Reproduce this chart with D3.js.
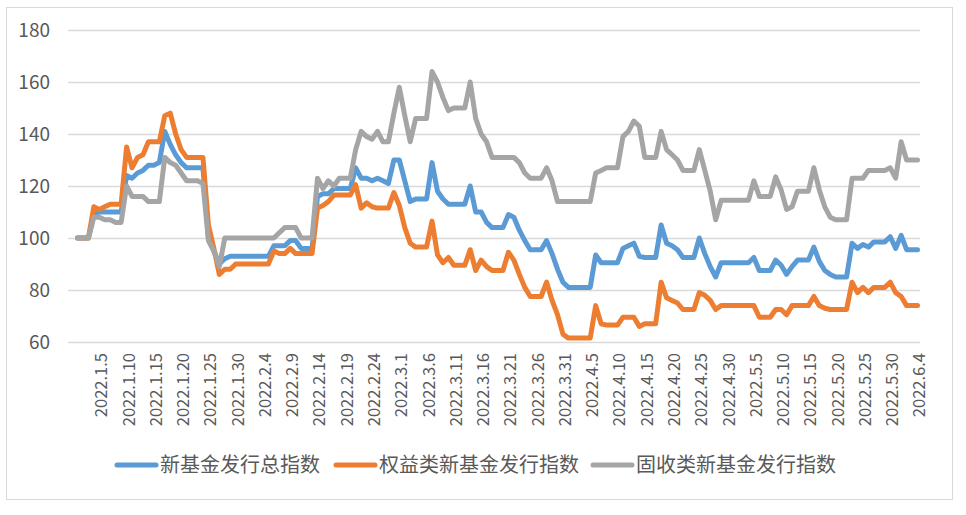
<!DOCTYPE html>
<html><head><meta charset="utf-8">
<script src="https://cdn.jsdelivr.net/npm/d3@7"></script>
<style>body{margin:0;background:#fff}svg{display:block}</style>
</head><body><svg id="c" width="966" height="515"></svg>
<script>
// ---- data ----
const firstDay = [2022, 0, 1];   // 2022.1.1
const lastDay  = [2022, 5, 4];   // 2022.6.4
const tickLabels = ["2022.1.5","2022.1.10","2022.1.15","2022.1.20","2022.1.25","2022.1.30","2022.2.4","2022.2.9","2022.2.14","2022.2.19","2022.2.24","2022.3.1","2022.3.6","2022.3.11","2022.3.16","2022.3.21","2022.3.26","2022.3.31","2022.4.5","2022.4.10","2022.4.15","2022.4.20","2022.4.25","2022.4.30","2022.5.5","2022.5.10","2022.5.15","2022.5.20","2022.5.25","2022.5.30","2022.6.4"];
const yTicks = [60, 80, 100, 120, 140, 160, 180];
const seriesNames = ["新基金发行总指数", "权益类新基金发行指数", "固收类新基金发行指数"];
const totalIndex = [100,100,100,109,110,110,110,110,110,124,
123,125,126,128,128,129,141,136,132,129,
127,127,127,127,100,95,90,92,93,93,
93,93,93,93,93,93,97,97,97,99,
99,96,96,96,116,117,117,119,119,119,
119,127,123,123,122,123,122,121,130,130,
122,114,115,115,115,129,118,115,113,113,
113,113,120,110,110,106,104,104,104,109,
108,103,99,95.5,95.5,95.5,99,94,88,83,
81,81,81,81,81,93.5,90.5,90.5,90.5,90.5,
96,97,98,93,92.5,92.5,92.5,105,98,97,
95.5,92.5,92.5,92.5,100,94,89,85,90.5,90.5,
90.5,90.5,90.5,90.5,92.5,87.5,87.5,87.5,91.5,89.5,
86,89,91.5,91.5,91.5,96.5,91,87.5,86,85,
85,85,98,96,97.5,96.5,98.5,98.5,98.5,100.5,
96,101,95.5,95.5,95.5];
const equityIndex = [100,100,100,112,111,112,113,113,113,135,
127,131,132,137,137,137,147,148,140,134,
131,131,131,131,105,96,86,88,88,90,
90,90,90,90,90,90,95,94,94,96,
94,94,94,94,111.5,112.5,114,116.5,116.5,116.5,
116.5,120.5,111.5,113.5,112,111.5,111.5,111.5,117.5,112.5,
104,98,96.5,96.5,96.5,106.5,93.5,90.5,92.5,89.5,
89.5,89.5,95.5,87.5,91.5,89,87.5,87.5,87.5,94.5,
91.5,86,81,77.5,77.5,77.5,83,76,70.5,63,
61.5,61.5,61.5,61.5,61.5,74,67,66.5,66.5,66.5,
69.5,69.5,69.5,66,67,67,67,83,77,76,
75,72.5,72.5,72.5,79,78,76,72.5,74,74,
74,74,74,74,74,69.5,69.5,69.5,72.5,72.5,
70.5,74,74,74,74,77.5,74,73,72.5,72.5,
72.5,72.5,83,79,81,79,81,81,81,83,
79,77.5,74,74,74];
const fixedIndex = [100,100,100,108,108,107,107,106,106,120,
116,116,116,114,114,114,131,129,128,125,
122,122,122,121,99,95,89,100,100,100,
100,100,100,100,100,100,100,102,104,104,
104,100,100,100,123,119,122,120,123,123,
123,134,141,139,138,141,137,137,148,158,
147,137,146,146,146,164,160,154,149,150,
150,150,160,146,140,137,131,131,131,131,
131,129,125,123,123,123,127,122,114,114,
114,114,114,114,114,125,126,127,127,127,
139,141,145,143,131,131,131,141,134,132,
130,126,126,126,134,126,118,107,114.5,114.5,
114.5,114.5,114.5,114.5,122,116,116,116,123.5,118.5,
111,112,118,118,118,127,118.5,112,108,107,
107,107,123,123,123,126,126,126,126,127,
123,137,130,130,130];
const seriesColors = ["#5B9BD5", "#ED7D31", "#A5A5A5"];

// ---- chart ----
const fmt = d => `${d.getFullYear()}.${d.getMonth() + 1}.${d.getDate()}`;
const categories = d3.timeDay.range(new Date(...firstDay), d3.timeDay.offset(new Date(...lastDay), 1)).map(fmt);
const series = [totalIndex, equityIndex, fixedIndex];

const svg = d3.select("#c");
const FONT = "'Noto Sans CJK SC','Noto Sans',sans-serif";
const txt = "#595959";
const plotL = 68, plotR = 920;

svg.append("rect").attr("x", 6.5).attr("y", 7.5).attr("width", 946).attr("height", 492)
  .attr("fill", "#fff").attr("stroke", "#d9d9d9").attr("stroke-width", 1);

const x = d3.scalePoint().domain(categories).range([77.5, 917.5]);
const y = d3.scaleLinear().domain([60, 180]).range([342, 30]);

// grid
svg.append("g").selectAll("line").data(yTicks).join("line")
  .attr("x1", plotL).attr("x2", plotR)
  .attr("y1", d => Math.round(y(d)) + 0.5).attr("y2", d => Math.round(y(d)) + 0.5)
  .attr("stroke", "#d9d9d9").attr("stroke-width", 1.3);

// y labels
svg.append("g").selectAll("text").data(yTicks).join("text")
  .attr("x", 50).attr("y", d => y(d)).attr("dy", "0.36em")
  .attr("text-anchor", "end").attr("font-family", FONT).attr("font-size", 19)
  .attr("fill", txt).text(d => d);

// x labels
svg.append("g").selectAll("text").data(tickLabels).join("text")
  .attr("transform", d => `translate(${x(d) + 2},353) rotate(-90)`)
  .attr("dy", "0.36em").attr("text-anchor", "end")
  .attr("font-family", FONT).attr("font-size", 16.5).attr("fill", txt).text(d => d);

// lines
const line = d3.line().x((d, i) => x(categories[i])).y(d => y(d));
svg.append("g").selectAll("path").data(series).join("path")
  .attr("d", d => line(d)).attr("fill", "none")
  .attr("stroke", (d, i) => seriesColors[i]).attr("stroke-width", 5)
  .attr("stroke-linejoin", "round").attr("stroke-linecap", "round");

// legend
const legendX = [117, 336, 593];
const lg = svg.append("g").selectAll("g").data(seriesNames).join("g")
  .attr("transform", (d, i) => `translate(${legendX[i]},465)`);
lg.append("line").attr("x1", 0).attr("x2", 39).attr("y1", 0).attr("y2", 0)
  .attr("stroke", (d, i) => seriesColors[i]).attr("stroke-width", 5).attr("stroke-linecap", "round");
lg.append("text").attr("x", 43).attr("dy", "0.36em").attr("font-family", FONT)
  .attr("font-size", 20).attr("fill", txt).text(d => d);
</script></body></html>
